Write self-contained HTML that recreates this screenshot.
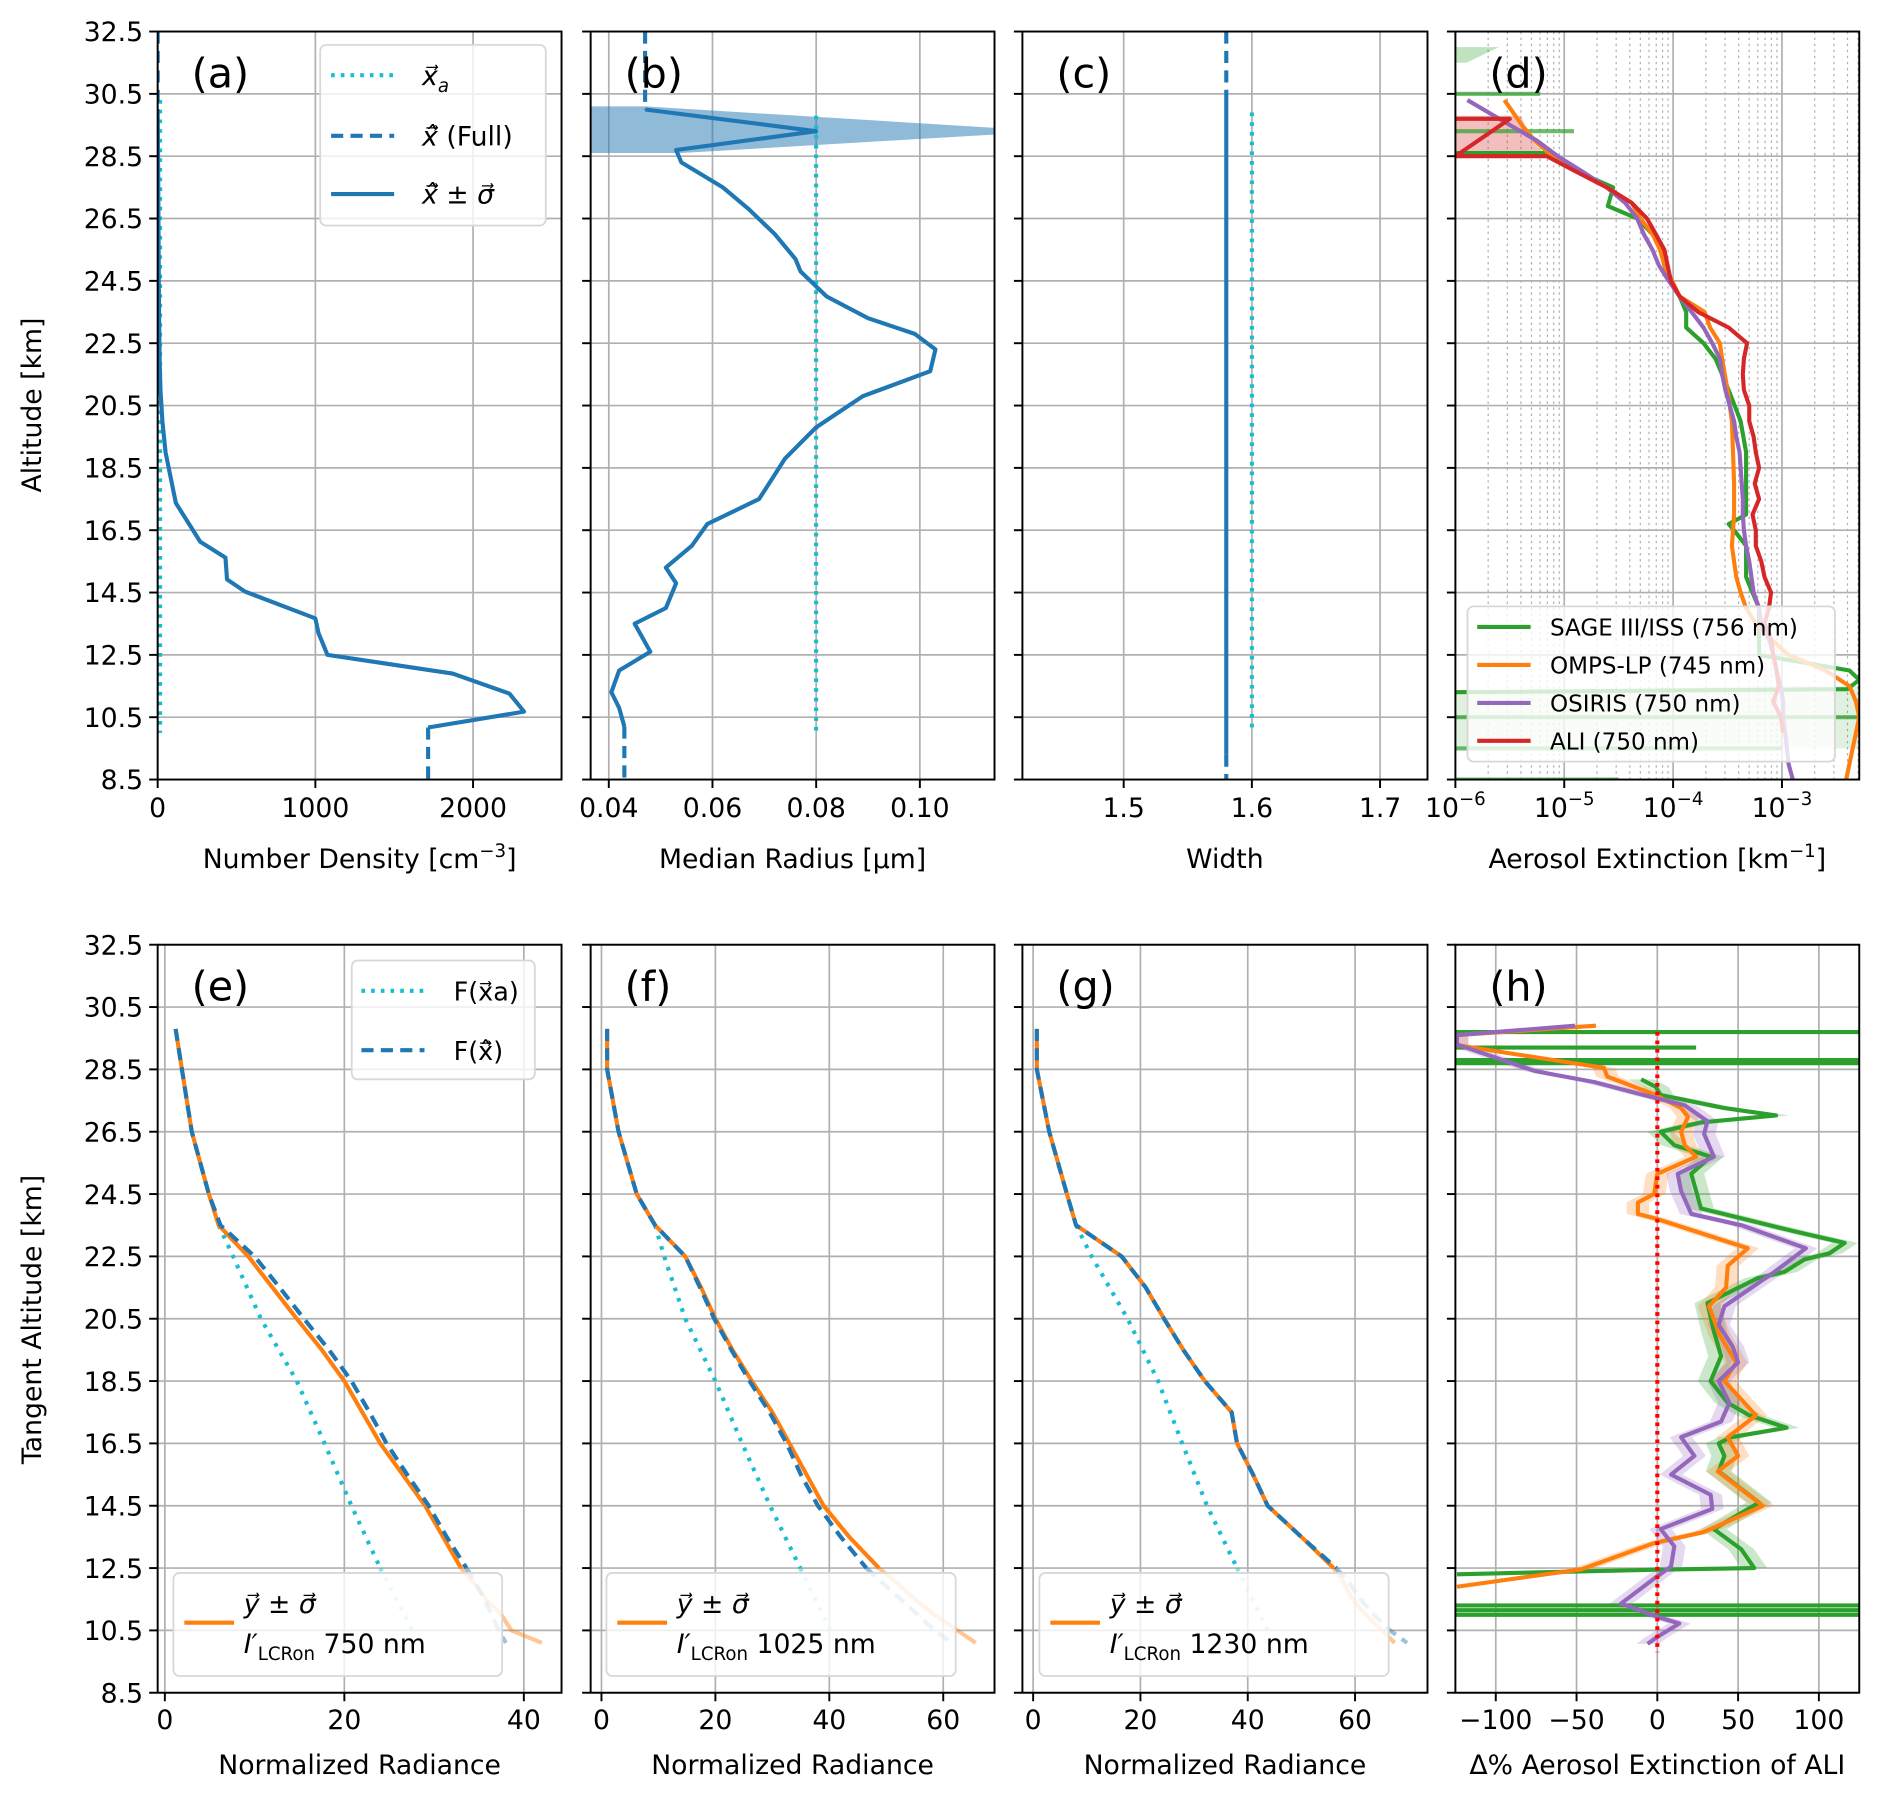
<!DOCTYPE html>
<html><head><meta charset="utf-8">
<style>
html,body{margin:0;padding:0;background:#fff;}
svg{display:block;font-family:"DejaVu Sans","Liberation Sans",sans-serif;}
</style></head>
<body>
<svg id="fig" width="1892" height="1794" viewBox="0 0 1560 1479.3" preserveAspectRatio="none" xmlns="http://www.w3.org/2000/svg"></svg>
<script>
// ---------- data ----------
const altTicks = [32.5,30.5,28.5,26.5,24.5,22.5,20.5,18.5,16.5,14.5,12.5,10.5,8.5];
// (a) number density
const aAlt = [30.0,28,26,24,22,21,20,19,18.5,17.37,16.13,15.62,14.92,14.53,13.67,13.2,12.5,11.9,11.26,10.68,10.17];
const aVal = [0,3,5,8,12,18,30,50,70,115,270,430,440,554,1000,1020,1077,1870,2230,2323,1715];
const aPrior = 15;
// (b) median radius
const bAlt = [30.0,29.3,28.7,28.3,27.5,26.8,26.0,25.2,24.8,24.0,23.3,22.8,22.3,21.6,20.8,19.8,18.8,17.5,16.7,16.0,15.3,14.8,14.0,13.5,12.6,12.0,11.3,10.8,10.2];
const bVal = [0.047,0.080,0.053,0.054,0.062,0.067,0.072,0.076,0.077,0.082,0.090,0.099,0.103,0.102,0.089,0.080,0.074,0.069,0.059,0.056,0.051,0.053,0.051,0.045,0.048,0.042,0.0405,0.042,0.043];
const bBandAlt = [30.1,29.3,28.6];
const bBandLo = [0.030,0.030,0.030];
const bBandHi = [0.047,0.125,0.054];
const bPrior = 0.08;
// (c) width
const cRet = 1.58;
const cPrior = 1.60;
// (d) log10 extinction
const dAliAlt = [29.7,29.7,28.5,28.5,28,27.5,27,26.5,26,25.5,25,24.5,24,23.5,23,22.5,22,21.5,21,20.5,20,19.5,19,18.5,18,17.5,17,16.5,16,15.5,15,14.5,14,13.5,13,12.5,12,11.5,11,10.5,10];
const dAliVal = [-6,-5.5,-6,-5.16,-4.89,-4.61,-4.38,-4.24,-4.16,-4.08,-4.05,-4.02,-3.94,-3.77,-3.49,-3.32,-3.35,-3.36,-3.35,-3.30,-3.30,-3.26,-3.24,-3.21,-3.25,-3.21,-3.27,-3.24,-3.24,-3.19,-3.16,-3.10,-3.12,-3.16,-3.10,-3.08,-3.05,-3.03,-3.08,-3.01,-2.99];
const dOsAlt = [30.3,29.5,29,28.5,28,27.5,27,26.5,26,25.5,25,24.5,24,23.5,23,22.5,22,21.5,21,20.5,20,19.5,19,18.5,18,17.5,17,16.5,16,15.5,15,14.5,14,13.5,13,12.5,12,11.5,11,10.5,10,9,8.5];
const dOsVal = [-5.89,-5.50,-5.25,-5.06,-4.83,-4.61,-4.44,-4.33,-4.27,-4.19,-4.13,-4.04,-3.94,-3.83,-3.72,-3.64,-3.57,-3.55,-3.52,-3.48,-3.44,-3.42,-3.39,-3.38,-3.37,-3.36,-3.36,-3.35,-3.33,-3.30,-3.28,-3.26,-3.21,-3.19,-3.12,-3.08,-3.05,-3.01,-2.99,-2.99,-2.97,-2.94,-2.90];
const dOmAlt = [30.3,29.5,29,28.5,28,27.5,27,26.5,26,25.5,25,24.5,24,23.5,23,22.5,22,21,20,19,18,17,16,15,14.5,14,13.5,13,12.5,12,11.5,11,10.5,9,8.5];
const dOmVal = [-5.55,-5.39,-5.27,-5.11,-4.88,-4.61,-4.38,-4.30,-4.19,-4.12,-4.08,-4.01,-3.94,-3.71,-3.66,-3.57,-3.55,-3.50,-3.46,-3.45,-3.44,-3.44,-3.46,-3.42,-3.38,-3.33,-3.24,-3.10,-2.94,-2.60,-2.38,-2.32,-2.29,-2.38,-2.41];
const dSgAlt = [28.6,28.6,28,27.5,26.9,26.5,26,25.5,25,24.5,24,23.5,23,22.5,22,21.5,21,20,19,18,17,16.7,16.5,16,15,14.5,14,13,12.5,12,11.7,11.4,11.3];
const dSgVal = [-6,-5.11,-4.88,-4.55,-4.60,-4.33,-4.19,-4.11,-4.08,-4.03,-3.94,-3.88,-3.88,-3.72,-3.61,-3.55,-3.49,-3.38,-3.33,-3.33,-3.33,-3.49,-3.44,-3.33,-3.33,-3.27,-3.21,-3.21,-3.21,-2.38,-2.29,-2.40,-6];
const dSgSpikeAlt = [30.5,29.3,10.5,9.5,8.5];
const dSgSpikeVal = [-5.22,-4.91,-2.29,-3.0,-4.5];
// (e)(f)(g) radiances
const eAlt = [29.8,28.5,26.5,24.5,23.5,22.5,21.5,20.5,19.5,18.5,17.5,16.5,15.5,14.5,13.5,12.5,12,11.5,11,10.5,10.1];
const eMeas = [1.2,1.9,3.0,4.9,6.0,9.3,12.0,14.7,17.5,20.0,22.0,24.0,26.5,29.0,31.0,33.0,34.5,35.8,37.5,38.6,42.0];
const eFit  = [1.2,1.9,3.0,4.9,6.2,10.0,12.8,15.5,18.3,20.8,22.8,24.7,27.0,29.4,31.4,33.6,34.7,35.6,36.4,37.2,38.0];
const eApAlt = [23.5,22.5,20.5,18.5,16.5,14.5,12.5,10.5];
const eApr  = [6.0,7.6,10.7,14.7,17.8,20.8,24.0,27.6];
const fMeas = [1.0,1.0,3.0,6.2,9.4,14.7,17.5,20.0,23.0,26.4,30.0,33.0,36.0,39.0,43.5,48.7,52.0,55.0,58.5,62.5,65.7];
const fFit  = [1.0,1.0,3.0,6.2,9.4,14.7,17.3,19.8,22.8,26.0,29.5,32.5,35.0,38.0,42.0,46.5,49.5,52.5,55.5,58.5,61.5];
const fApr  = [9.4,11.0,14.7,20.0,24.7,29.6,34.9,40.2];
const gMeas = [0.7,0.7,3.0,6.3,8.0,16.5,21.0,24.4,28.0,32.0,37.0,38.0,41.0,43.7,50.0,56.0,58.0,59.5,62.0,65.0,67.4];
const gFit  = [0.7,0.7,3.0,6.3,8.0,16.5,21.0,24.4,28.0,32.0,37.0,38.0,41.0,43.7,50.0,56.5,59.0,61.0,63.5,66.5,69.7];
const gApr  = [8.0,10.9,17.6,23.3,27.8,32.4,38.0,43.7];
// (h) percent differences
const hGAlt = [28.18,27.94,27.68,27.26,27.02,26.8,26.5,26.07,25.7,25.15,24.04,23.3,22.93,22.6,22.4,22.0,21.8,21.0,20.1,19.3,18.5,17.8,17.4,17.0,16.7,16.5,16.1,15.6,14.6,13.75,13.1,12.5,12.45,12.3];
const hGVal = [-10,-1,2,41.5,73.5,27,2,10.5,33,21,27,85,116,106.6,91,78.7,62,31,35,39.5,33,43.6,57,80,45.7,38,41.5,38,63,35,52,60,0,-124];
const hPAlt = [29.9,29.6,29.3,28.45,28.09,27.7,27.35,26.84,26.43,25.7,25.15,24.6,23.86,23.5,22.76,22.0,20.9,20.3,19.6,19.1,18.5,17.8,17.2,16.7,16.1,15.5,14.85,14.4,13.75,13.2,12.55,12.2,11.36,10.9,10.72,10.26,10.07];
const hPVal = [-51,-124,-124,-76,-39,-10,17,31,29,35,12.6,14.7,21,52,92,72.5,41.5,38,46.7,50,38,44.6,39.5,14.7,23,8.5,33,34,2,10.5,8.5,-1,-22.5,2,13.6,-1,-6];
const hOAlt = [29.9,29.6,29.28,28.73,28.55,28.27,27.7,27.26,26.98,26.5,26.07,25.7,25.15,24.5,24.23,23.86,23.7,22.76,22.2,21.5,20.9,20.0,19.1,18.5,17.4,16.7,16.1,15.6,14.5,13.66,13.3,12.46,11.9];
const hOVal = [-38,-124,-124,-55.6,-33,-31,-2,14.7,19,14.7,17,24,0,-2,-12,-12,0,56,43.6,42.6,32,38.4,48.8,41.5,61,43.6,50,37.4,65.3,29,-2,-47,-124];
const hSpikeAlt = [29.7,29.2,28.8,28.7,11.3,11.15,11.0];
const hSpikeVal = [125,24,125,125,125,125,125];

// ---------- helpers ----------
const NS = "http://www.w3.org/2000/svg";
const svg = document.getElementById('fig');
function mk(tag, attrs, parent){ const e=document.createElementNS(NS,tag); for(const k in attrs) e.setAttribute(k,attrs[k]); (parent||svg).appendChild(e); return e; }
const rowTop = [26, 779], KM = 25.7;
function Y(alt,row){ return rowTop[row] + (32.5-alt)*KM; }
function xScale(p){ return v => p.x0 + (v-p.d0)/(p.d1-p.d0)*(p.x1-p.x0); }

const panels = {
 a:{x0:130,x1:463,d0:0,d1:2561,row:0,ticks:[0,1000,2000],labels:['0','1000','2000']},
 b:{x0:487,x1:820,d0:0.0365,d1:0.1144,row:0,ticks:[0.04,0.06,0.08,0.10],labels:['0.04','0.06','0.08','0.10']},
 c:{x0:843,x1:1177,d0:1.421,d1:1.737,row:0,ticks:[1.5,1.6,1.7],labels:['1.5','1.6','1.7']},
 d:{x0:1200,x1:1533,d0:-6,d1:-2.29,row:0,ticks:[-6,-5,-4,-3],labels:['-6','-5','-4','-3'],log:true},
 e:{x0:130,x1:463,d0:-0.8,d1:44.2,row:1,ticks:[0,20,40],labels:['0','20','40']},
 f:{x0:487,x1:820,d0:-1.9,d1:69,row:1,ticks:[0,20,40,60],labels:['0','20','40','60']},
 g:{x0:843,x1:1177,d0:-2,d1:73.5,row:1,ticks:[0,20,40,60],labels:['0','20','40','60']},
 h:{x0:1200,x1:1533,d0:-125,d1:125,row:1,ticks:[-100,-50,0,50,100],labels:['\u2212100','\u221250','0','50','100']}
};
const xlabels = {a:['Number Density [cm','\u22123',']'],b:['Median Radius [\u03bcm]'],c:['Width'],d:['Aerosol Extinction [km','\u22121',']'],
 e:['Normalized Radiance'],f:['Normalized Radiance'],g:['Normalized Radiance'],h:['\u0394% Aerosol Extinction of ALI']};

const groups = {};
for(const key in panels){
  const p = panels[key]; p.X = xScale(p);
  const top = rowTop[p.row], bot = Y(8.5,p.row);
  const g = mk('g',{});
  
  
  groups[key]=g;
  const cp = mk('clipPath',{id:'clip-'+key},g); mk('rect',{x:p.x0,y:top,width:p.x1-p.x0,height:bot-top},cp);
  const grid = mk('g',{stroke:'#b0b0b0','stroke-width':1.4},g);
  
  
  altTicks.forEach(a=>mk('line',{x1:p.x0,x2:p.x1,y1:Y(a,p.row),y2:Y(a,p.row)},grid));
  p.ticks.forEach(t=>mk('line',{x1:p.X(t),x2:p.X(t),y1:top,y2:bot},grid));
  if(p.log){
    for(let dec=-6;dec<-2;dec++) for(let m=2;m<10;m++){
      const v=dec+Math.log10(m); if(v>p.d1) continue;
      mk('line',{x1:p.X(v),x2:p.X(v),y1:top,y2:bot,'stroke-dasharray':'2,3','stroke-width':1},grid);
    }
  }
  const plot = mk('g',{'clip-path':'url(#clip-'+key+')'},g);
  
  
  p.plot = plot;
}
function pts(p,alts,vals){ return alts.map((a,i)=>p.X(vals[i]).toFixed(1)+','+Y(a,p.row).toFixed(1)).join(' '); }
function line(key,alts,vals,color,name,opts){
  opts=opts||{}; const p=panels[key];
  const e = mk('polyline',{points:pts(p,alts,vals),fill:'none',stroke:color,'stroke-width':opts.w||3.4,'stroke-dasharray':opts.dash||'none','stroke-opacity':opts.op||1,'stroke-linejoin':'round'},p.plot);
  
  
  return e;
}
function band(key,alts,lo,hi,color,op,name){
  const p=panels[key];
  const s = alts.map((a,i)=>p.X(lo[i]).toFixed(1)+','+Y(a,p.row).toFixed(1));
  const r = alts.map((a,i)=>p.X(hi[i]).toFixed(1)+','+Y(a,p.row).toFixed(1)).reverse();
  const e = mk('polygon',{points:s.concat(r).join(' '),fill:color,'fill-opacity':op,stroke:'none'},p.plot);
  
  
}
const BL='#1f77b4',OR='#ff7f0e',GR='#2ca02c',RD='#d62728',PU='#9467bd',CY='#17becf';

// (a)
line('a',[30.3,10.0],[aPrior,aPrior],CY,'a-prior-line',{dash:'3,5'});
line('a',[32.5,30.0],[0,0],BL,'full-retrieval-top',{dash:'10,6'});
line('a',aAlt,aVal,BL,'number-density-line');
line('a',[aAlt[aAlt.length-1],8.5],[aVal[aVal.length-1],aVal[aVal.length-1]],BL,'full-retrieval-bottom',{dash:'10,6'});
// (b)
band('b',bBandAlt,bBandLo,bBandHi,BL,0.5,'radius-uncertainty-band');
line('b',[29.8,10.0],[bPrior,bPrior],CY,'b-prior-line',{dash:'3,5'});
line('b',[32.5,30.0],[bVal[0],bVal[0]],BL,'radius-full-top',{dash:'10,6'});
line('b',bAlt,bVal,BL,'median-radius-line');
line('b',[bAlt[bAlt.length-1],8.5],[bVal[bVal.length-1],bVal[bVal.length-1]],BL,'radius-full-bottom',{dash:'10,6'});
// (c)
line('c',[32.5,30.3],[cRet,cRet],BL,'width-full-top',{dash:'10,6'});
line('c',[30.3,9.3],[cRet,cRet],BL,'width-line');
line('c',[9.3,8.5],[cRet,cRet],BL,'width-full-bottom',{dash:'10,6'});
line('c',[29.9,10.0],[cPrior,cPrior],CY,'c-prior-line',{dash:'3,5'});
// (d)
band('d',[29.8,29.0,28.5],[-6,-6,-6],[-5.4,-5.3,-5.16],RD,0.3,'ali-band');
band('d',[32.0,31.5],[-6,-6],[-5.6,-5.9],GR,0.3,'sage-band-top');
band('d',[11.5,11.3,10.0,9.5],[-3.2,-6,-6,-6],[-2.3,-2.3,-2.3,-2.3],GR,0.15,'sage-band-bottom');
dSgSpikeAlt.forEach((a,i)=>line('d',[a,a],[-6,dSgSpikeVal[i]],GR,'sage-spike',{op:0.7}));
line('d',dSgAlt,dSgVal,GR,'sage-line');
line('d',dOmAlt,dOmVal,OR,'omps-line');
line('d',dOsAlt,dOsVal,PU,'osiris-line');
line('d',dAliAlt,dAliVal,RD,'ali-line');
// (e)(f)(g)
function radPanel(key,meas,fit,apr){
  const cut=15;
  line(key,eApAlt.slice(0,7),apr.slice(0,7),CY,key+'-prior-line',{dash:'3,6'});
  line(key,eApAlt.slice(6),apr.slice(6),CY,key+'-prior-line-low',{dash:'3,6',op:0.45});
  line(key,eAlt.slice(0,cut+1),meas.slice(0,cut+1),OR,key+'-measured-line');
  line(key,eAlt.slice(cut),meas.slice(cut),OR,key+'-measured-line-low',{op:0.45});
  line(key,eAlt.slice(0,cut+1),fit.slice(0,cut+1),BL,key+'-fit-line',{dash:'10,6'});
  line(key,eAlt.slice(cut),fit.slice(cut),BL,key+'-fit-line-low',{dash:'10,6',op:0.45});
}
radPanel('e',eMeas,eFit,eApr);
radPanel('f',fMeas,fFit,fApr);
radPanel('g',gMeas,gFit,gApr);
// (h)
band('h',hGAlt,hGVal.map(v=>v-8),hGVal.map(v=>v+8),GR,0.25,'sage-diff-band');
band('h',hOAlt,hOVal.map(v=>v-7),hOVal.map(v=>v+7),OR,0.25,'omps-diff-band');
band('h',hPAlt,hPVal.map(v=>v-7),hPVal.map(v=>v+7),PU,0.25,'osiris-diff-band');
hSpikeAlt.forEach((a,i)=>line('h',[a,a],[-125,hSpikeVal[i]],GR,'sage-diff-spike'));
line('h',hGAlt,hGVal,GR,'sage-diff-line');
line('h',hOAlt,hOVal,OR,'omps-diff-line');
line('h',hPAlt,hPVal,PU,'osiris-diff-line');
line('h',[29.7,9.8],[0,0],'#ff0000','zero-reference-line',{dash:'3,4'});

// axes frames, ticks, labels
const letters={a:'(a)',b:'(b)',c:'(c)',d:'(d)',e:'(e)',f:'(f)',g:'(g)',h:'(h)'};
for(const key in panels){
  const p=panels[key], g=groups[key], top=rowTop[p.row], bot=Y(8.5,p.row);
  const fr = mk('rect',{x:p.x0,y:top,width:p.x1-p.x0,height:bot-top,fill:'none',stroke:'#000','stroke-width':1.6},g);
  
  
  altTicks.forEach(a=>{
    mk('line',{x1:p.x0-7,x2:p.x0,y1:Y(a,p.row),y2:Y(a,p.row),stroke:'#000','stroke-width':1.6},g);
    if(key==='a'||key==='e'){
      const t=mk('text',{x:p.x0-12,y:Y(a,p.row)+8,'text-anchor':'end','font-size':22},g);
      t.textContent=a.toFixed(1);
      
      
    }
  });
  p.ticks.forEach((tv,i)=>{
    const x=p.X(tv);
    mk('line',{x1:x,x2:x,y1:bot,y2:bot+7,stroke:'#000','stroke-width':1.6},g);
    const t=mk('text',{x:x,y:bot+(p.row?30:31),'text-anchor':'middle','font-size':22},g);
    
    
    if(p.log){ t.textContent='10'; const s=mk('tspan',{dy:-10,'font-size':15},t); s.textContent='\u2212'+(-tv); }
    else t.textContent=p.labels[i];
  });
  const xl=xlabels[key];
  const t=mk('text',{x:(p.x0+p.x1)/2,y:bot+(p.row?67:73),'text-anchor':'middle','font-size':22},g);
  
  
  t.textContent=xl[0];
  if(xl.length>1){ const s=mk('tspan',{dy:-9,'font-size':15},t); s.textContent=xl[1]; const s2=mk('tspan',{dy:9},t); s2.textContent=xl[2]; }
  const L=mk('text',{x:p.x0+28,y:top+46,'font-size':34},g);
  
  
  L.textContent=letters[key];
}
function ytitle(txt,cy,name){
  const t=mk('text',{x:0,y:0,'text-anchor':'middle','font-size':22,transform:'translate(34,'+cy+') rotate(-90)'});
  t.textContent=txt;
  
  
}
ytitle('Altitude [km]',334,'y-axis-title-top');
ytitle('Tangent Altitude [km]',1088,'y-axis-title-bottom');

// legends
function legendBox(x,y,w,h,name){
  const g=mk('g',{});
  
  
  mk('rect',{x:x,y:y,width:w,height:h,rx:5,fill:'#fff','fill-opacity':0.8,stroke:'#d8d8d8','stroke-width':1.5},g);
  return g;
}
function entry(g,x1,x2,y,color,dash,name){
  const l=mk('line',{x1:x1,x2:x2,y1:y,y2:y,stroke:color,'stroke-width':3.4,'stroke-dasharray':dash},g);
  
  
}
function txt(g,x,y,s,size,name,style){
  const t=mk('text',{x:x,y:y,'font-size':size||21,'font-style':style||'normal'},g);
  t.textContent=s;
  
  
  return t;
}
let lg=legendBox(264,37,186,149,'legend-a');
entry(lg,273,325,62,CY,'3,5','legend-prior-swatch'); let t1=txt(lg,348,70,'x\u20d7',22,'legend-prior-label','italic'); const sb=mk('tspan',{dy:6,'font-size':15},t1); sb.textContent='a';
entry(lg,273,325,112,BL,'10,6','legend-full-swatch'); let t2=txt(lg,348,120,'x\u0302\u20d7',22,'legend-full-label','italic'); const t2s=mk('tspan',{'font-style':'normal'},t2); t2s.textContent=' (Full)';
entry(lg,273,325,160,BL,'none','legend-retrieval-swatch'); txt(lg,348,168,'x\u0302\u20d7 \u00b1 \u03c3\u20d7',22,'legend-retrieval-label','italic');

lg=legendBox(1210,500,303,128,'legend-d');
[['SAGE III/ISS (756 nm)',GR],['OMPS-LP (745 nm)',OR],['OSIRIS (750 nm)',PU],['ALI (750 nm)',RD]].forEach((e,i)=>{
  const y=517+i*31.3; entry(lg,1218,1262,y,e[1],'none','legend-swatch-'+i); txt(lg,1278,y+7,e[0],19,'legend-label-'+i);
});

lg=legendBox(290,792,151,98,'legend-e');
entry(lg,298,350,817,CY,'3,5','legend-forward-prior-swatch'); txt(lg,374,825,'F(x\u20d7a)',21,'legend-forward-prior-label');
entry(lg,298,350,866,BL,'10,6','legend-forward-fit-swatch'); txt(lg,374,874,'F(x\u0302\u20d7)',21,'legend-forward-fit-label');

[[143,'750 nm'],[500,'1025 nm'],[857,'1230 nm']].forEach((e,i)=>{
  const x=e[0]; const g=legendBox(x,1297,e[1]==='750 nm'?271:288,85,'legend-measurement-'+i);
  entry(g,x+9,x+50,1338,OR,'none','legend-measurement-swatch');
  txt(g,x+58,1330,'y\u20d7 \u00b1 \u03c3\u20d7',22,'legend-measurement-label','italic');
  const t=txt(g,x+58,1363,'I\u2032',22,'legend-channel-label','italic');
  const s=mk('tspan',{dy:6,'font-size':15,'font-style':'normal'},t); s.textContent='LCRon';
  const s2=mk('tspan',{dy:-6,'font-style':'normal'},t); s2.textContent=' '+e[1];
});
</script>
</body></html>
